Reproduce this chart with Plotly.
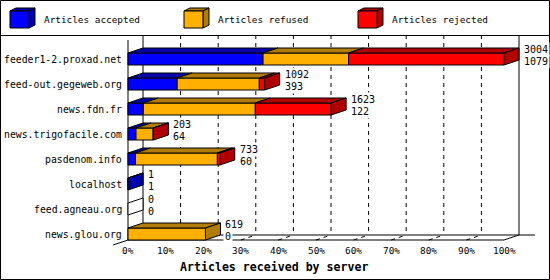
import plotly.graph_objects as go

# ---------------- data ----------------
servers = ["feeder1-2.proxad.net", "feed-out.gegeweb.org", "news.fdn.fr",
           "news.trigofacile.com", "pasdenom.info", "localhost",
           "feed.agneau.org", "news.glou.org"]
accepted = [1079, 393, 122, 64, 60, 1, 0, 0]
refused = [684, 656, 895, 137, 654, 0, 0, 619]
rejected = [1241, 43, 606, 2, 19, 0, 0, 0]
series_names = ["Articles accepted", "Articles refused", "Articles rejected"]
tick_values = [0, 10, 20, 30, 40, 50, 60, 70, 80, 90, 100]
tick_labels = [f"{v}%" for v in tick_values]
axis_title = "Articles received by server"

# ---------------- style ----------------
FRONT = ["#0000FF", "#FFB000", "#FF0000"]
DARK = ["#0000A8", "#B07D08", "#B00000"]
FONT = "DejaVu Sans Mono"
W, H = 550, 280
X0PX, PXPCT = 128, 3.76     # pixel of 0 %, pixels per 1 %
Y0PX, ROWPX = 59, 25        # pixel of first row centre, pixels per row


def xd(px):
    return (px - X0PX) / PXPCT


def yd(py):
    return (py - Y0PX) / ROWPX


DX = 15 / PXPCT
DY = -5 / ROWPX
HB = 6 / ROWPX

series = [accepted, refused, rejected]
totals = [sum(s[i] for s in series) for i in range(len(servers))]
maxtot = max(totals)


def pct(v):
    return v / maxtot * 100


fig = go.Figure()


def poly(xs, ys, fill):
    fig.add_trace(go.Scatter(x=xs + [xs[0]], y=ys + [ys[0]], mode="lines",
                             fill="toself", fillcolor=fill,
                             line=dict(color="black", width=1),
                             hoverinfo="skip", showlegend=False))


def line(xs, ys, dash="solid"):
    fig.add_trace(go.Scatter(x=xs, y=ys, mode="lines",
                             line=dict(color="black", width=1, dash=dash),
                             hoverinfo="skip", showlegend=False))


nrow = len(servers)
top_front = yd(40)
top_back = yd(35)
floor_front = (nrow - 1) + HB
floor_back = floor_front + DY

# back wall grid
for t in tick_values[1:-1]:
    line([t + DX, t + DX], [top_back, floor_back], dash="4px,4px")
    line([t, t + DX], [floor_front, floor_back], dash="4px,4px")
line([DX, DX], [top_back, floor_back])
line([100 + DX, 100 + DX], [top_back, floor_back])
line([0, 0], [top_front, floor_front])
# floor
line([DX, xd(535)], [floor_back, floor_back])
line([-DX, DX], [floor_front - DY, floor_back])
line([0, 100, 100 + DX], [floor_front, floor_front, floor_back])

# bars
for i in range(nrow):
    c = i
    x0 = 0.0
    last = None
    for k, s in enumerate(series):
        v = s[i]
        if v <= 0:
            continue
        x1 = x0 + pct(v)
        poly([x0, x1, x1, x0], [c - HB, c - HB, c + HB, c + HB], FRONT[k])
        poly([x0, x1, x1 + DX, x0 + DX],
             [c - HB, c - HB, c - HB + DY, c - HB + DY], DARK[k])
        x0 = x1
        last = k
    xe = pct(totals[i])
    side = DARK[last] if last is not None else "white"
    poly([xe, xe + DX, xe + DX, xe],
         [c - HB, c - HB + DY, c + HB + DY, c + HB], side)

annotations = []
for i, name in enumerate(servers):
    annotations.append(dict(x=0, y=i, xref="x", yref="y", text=name,
                            xanchor="right", yanchor="middle", xshift=-4,
                            showarrow=False, font=dict(family=FONT, size=9.8, color="black")))
    xe = pct(totals[i]) + DX
    annotations.append(dict(x=xe, y=i, xref="x", yref="y", text=str(totals[i]),
                            xanchor="left", yanchor="middle", xshift=3, yshift=10,
                            bgcolor="white", borderpad=1,
                            showarrow=False, font=dict(family=FONT, size=10, color="black")))
    annotations.append(dict(x=xe, y=i, xref="x", yref="y", text=str(accepted[i]),
                            xanchor="left", yanchor="middle", xshift=3, yshift=-2,
                            bgcolor="white", borderpad=1,
                            showarrow=False, font=dict(family=FONT, size=10, color="black")))
for t, lab in zip(tick_values, tick_labels):
    annotations.append(dict(x=t, y=yd(250.5), xref="x", yref="y", text=lab,
                            xanchor="center", yanchor="middle", showarrow=False,
                            font=dict(family=FONT, size=9.4, color="black")))
annotations.append(dict(x=274 / W, y=yd(267), xref="paper", yref="y", text=axis_title,
                        xanchor="center", yanchor="middle", showarrow=False,
                        font=dict(family=FONT, size=11.6, color="black", weight="bold")))


def P(px, py):
    return px / W, 1 - py / H


def path(pts):
    s = ""
    for j, (px, py) in enumerate(pts):
        x, y = P(px, py)
        s += ("M" if j == 0 else "L") + f"{x:.5f},{y:.5f} "
    return s + "Z"


shapes = []
# frame and separator
shapes.append(dict(type="rect", xref="paper", yref="paper",
                   x0=0.5 / W, x1=(W - 0.5) / W, y0=0.5 / H, y1=1 - 0.5 / H,
                   line=dict(color="black", width=1)))
shapes.append(dict(type="line", xref="paper", yref="paper",
                   x0=0, x1=1, y0=1 - 35.5 / H, y1=1 - 35.5 / H,
                   line=dict(color="black", width=1)))
# legend
for k, name in enumerate(series_names):
    bx = 10 + 174 * k
    shapes.append(dict(type="path", xref="paper", yref="paper",
                       path=path([(bx, 11), (bx + 19, 11), (bx + 25, 8), (bx + 6, 8)]),
                       fillcolor=DARK[k], line=dict(color="black", width=1)))
    shapes.append(dict(type="path", xref="paper", yref="paper",
                       path=path([(bx + 19, 11), (bx + 25, 8), (bx + 25, 25), (bx + 19, 28)]),
                       fillcolor=DARK[k], line=dict(color="black", width=1)))
    shapes.append(dict(type="path", xref="paper", yref="paper",
                       path=path([(bx, 11), (bx + 19, 11), (bx + 19, 28), (bx, 28)]),
                       fillcolor=FRONT[k], line=dict(color="black", width=1)))
    tx, ty = P(bx + 32, 20)
    annotations.append(dict(x=tx, y=ty, xref="paper", yref="paper", text=name,
                            xanchor="left", yanchor="middle", showarrow=False,
                            font=dict(family=FONT, size=9.4, color="black")))

fig.update_layout(
    width=W, height=H, margin=dict(l=0, r=0, t=0, b=0),
    paper_bgcolor="white", plot_bgcolor="white",
    xaxis=dict(visible=False, range=[xd(0), xd(W)], fixedrange=True),
    yaxis=dict(visible=False, range=[yd(H), yd(0)], fixedrange=True),
    shapes=shapes, annotations=annotations, showlegend=False,
)
fig.write_html("out.html", config={"displayModeBar": False})
